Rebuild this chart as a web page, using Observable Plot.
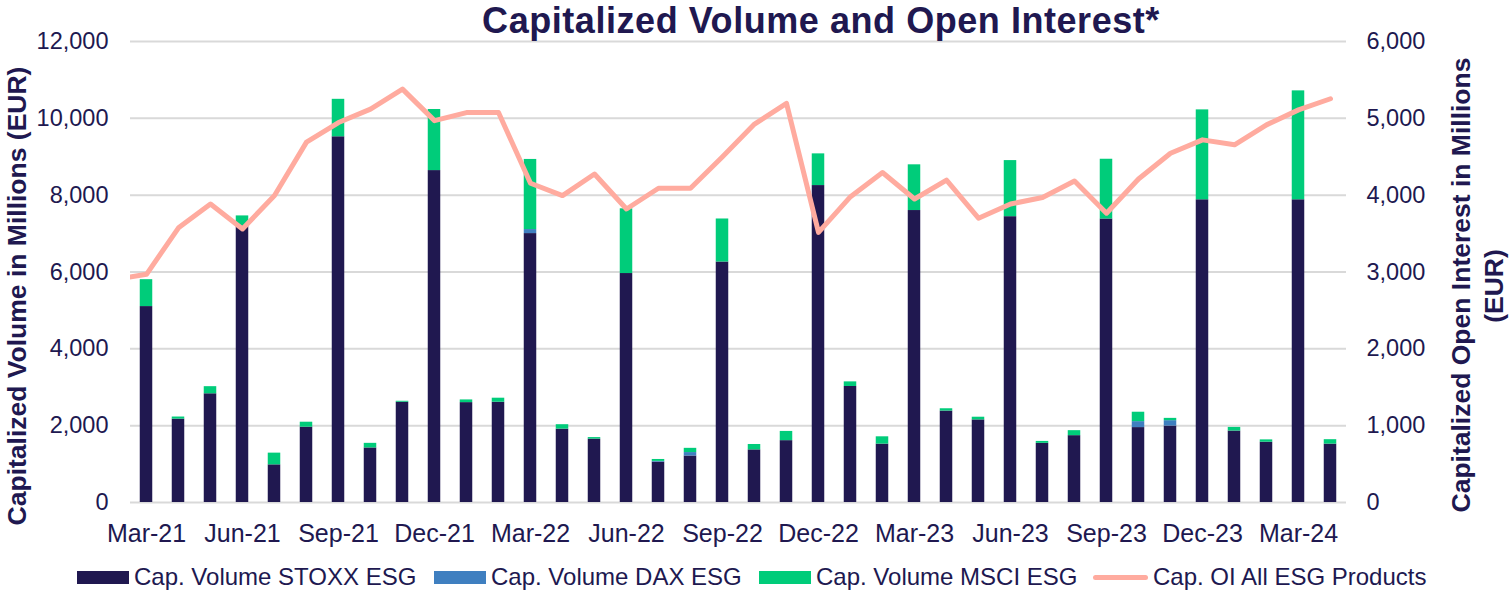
<!DOCTYPE html>
<html><head><meta charset="utf-8">
<script src="https://cdn.jsdelivr.net/npm/d3@7"></script>
<script src="https://cdn.jsdelivr.net/npm/@observablehq/plot@0.6"></script>
<style>
body{margin:0;background:#fff;font-family:"Liberation Sans",Arial,sans-serif;color:#201850;}
#wrap{position:relative;width:1511px;height:592px;overflow:hidden;}
#chart{position:absolute;left:0;top:0;}
#title{position:absolute;left:821px;top:0px;transform:translateX(-50%);white-space:nowrap;font-weight:bold;font-size:36px;letter-spacing:0.55px;line-height:normal;color:#201850;}
.ylab{position:absolute;white-space:nowrap;font-weight:bold;font-size:26.5px;line-height:30px;color:#201850;transform:translate(-50%,-50%) rotate(-90deg);}
.leg{position:absolute;top:565px;height:24px;display:flex;align-items:center;font-size:24px;white-space:nowrap;color:#201850;}
.sw{display:inline-block;width:52px;height:13px;margin-right:5px;}
.lsw{display:inline-block;width:55px;height:5px;border-radius:3px;margin-right:5px;background:#ffab9f;}
</style></head><body>
<div id="wrap">
  <div id="chart"></div>
  <div id="title">Capitalized Volume and Open Interest*</div>
  <div class="ylab" style="left:17px;top:296px;">Capitalized Volume in Millions (EUR)</div>
  <div class="ylab" style="left:1461px;top:285px;">Capitalized Open Interest in Millions</div>
  <div class="ylab" style="left:1494px;top:286px;">(EUR)</div>
  <div id="legend"></div>
</div>
<script>
const months = ["Mar-21","Apr-21","May-21","Jun-21","Jul-21","Aug-21","Sep-21","Oct-21","Nov-21","Dec-21",
  "Jan-22","Feb-22","Mar-22","Apr-22","May-22","Jun-22","Jul-22","Aug-22","Sep-22","Oct-22","Nov-22","Dec-22",
  "Jan-23","Feb-23","Mar-23","Apr-23","May-23","Jun-23","Jul-23","Aug-23","Sep-23","Oct-23","Nov-23","Dec-23",
  "Jan-24","Feb-24","Mar-24","Apr-24"];
const xTickLabels = ["Mar-21","Jun-21","Sep-21","Dec-21","Mar-22","Jun-22","Sep-22","Dec-22","Mar-23","Jun-23","Sep-23","Dec-23","Mar-24"];
const stoxx = [5100,2170,2830,7200,980,1960,9520,1420,2610,8640,
  2600,2610,7000,1910,1650,5960,1050,1210,6260,1370,1610,8250,
  3020,1520,7600,2380,2150,7440,1540,1740,7380,1950,1990,7880,
  1860,1570,7880,1520];
const dax = [0,0,0,0,0,0,0,0,0,0,
  0,0,105,0,0,0,20,90,0,0,0,0,
  0,0,0,0,0,0,0,0,0,155,140,0,
  0,0,0,0];
const msci = [700,55,185,260,305,130,975,120,25,1590,
  70,105,1825,115,40,1685,50,110,1120,140,240,825,
  120,190,1190,60,70,1460,50,130,1555,245,60,2340,
  95,60,2835,115];
const oiMonths = ["Feb-21"].concat(months);
const oi = [2900,2970,3575,3885,3560,3995,4690,4945,5120,5380,4970,
  5075,5075,4155,3995,4275,3820,4090,4090,4500,4925,5195,3515,
  3980,4295,3950,4195,3700,3885,3970,4185,3765,4210,4545,4720,
  4655,4915,5110,5255];
const seriesNames = ["Cap. Volume STOXX ESG","Cap. Volume DAX ESG","Cap. Volume MSCI ESG"];
const seriesColors = ["#201850","#3f7fc0","#00cc7a"];
const lineName = "Cap. OI All ESG Products";
const lineColor = "#ffab9f";
const yTicks = [0,2000,4000,6000,8000,10000,12000];

const series = [stoxx, dax, msci];
const rows = [];
months.forEach((m, i) => {
  let base = 0;
  series.forEach((arr, k) => {
    const v = arr[i];
    if (v > 0) rows.push({i, s: seriesNames[k], y1: base, y2: base + v});
    base += v;
  });
});
const oiRows = oiMonths.map((m, k) => ({x: k - 1, v: oi[k]}));
const xTicks = xTickLabels.map(l => months.indexOf(l));
const fmt = d3.format(",");

const chart = Plot.plot({
  width: 1511, height: 592,
  marginLeft: 130, marginRight: 165, marginTop: 41, marginBottom: 90,
  x: {domain: [-0.5, months.length - 0.5]},
  y: {domain: [0, 12000]},
  color: {domain: seriesNames, range: seriesColors},
  style: {fontFamily: "'Liberation Sans', Arial, sans-serif", color: "#201850", background: "white", overflow: "visible"},
  marks: [
    Plot.gridY(yTicks, {stroke: "#d9d9d9", strokeOpacity: 1, strokeWidth: 2}),
    Plot.rect(rows, {x1: d => d.i - 0.5, x2: d => d.i + 0.5, y1: "y1", y2: "y2", fill: "s", insetLeft: 9.75, insetRight: 9.75}),
    Plot.line(oiRows, {x: "x", y: d => d.v * 2, stroke: lineColor, strokeWidth: 5, clip: true}),
    Plot.axisY(yTicks, {tickFormat: fmt, tickSize: 0, tickPadding: 22, fontSize: 23.5, label: null}),
    Plot.axisY(yTicks, {anchor: "right", tickFormat: d => fmt(d / 2), tickSize: 0, tickPadding: 20, fontSize: 23.5, label: null}),
    Plot.axisX(xTicks, {tickFormat: i => months[i], tickSize: 0, tickPadding: 22, fontSize: 25, label: null})
  ]
});
document.getElementById("chart").appendChild(chart);

const legend = document.getElementById("legend");
const legX = [77, 434, 759, 1093];
seriesNames.forEach((n, k) => {
  const d = document.createElement("div");
  d.className = "leg"; d.style.left = legX[k] + "px";
  d.innerHTML = `<span class="sw" style="background:${seriesColors[k]}"></span>${n}`;
  legend.appendChild(d);
});
const dl = document.createElement("div");
dl.className = "leg"; dl.style.left = legX[3] + "px";
dl.innerHTML = `<span class="lsw"></span>${lineName}`;
legend.appendChild(dl);
</script>
</body></html>
